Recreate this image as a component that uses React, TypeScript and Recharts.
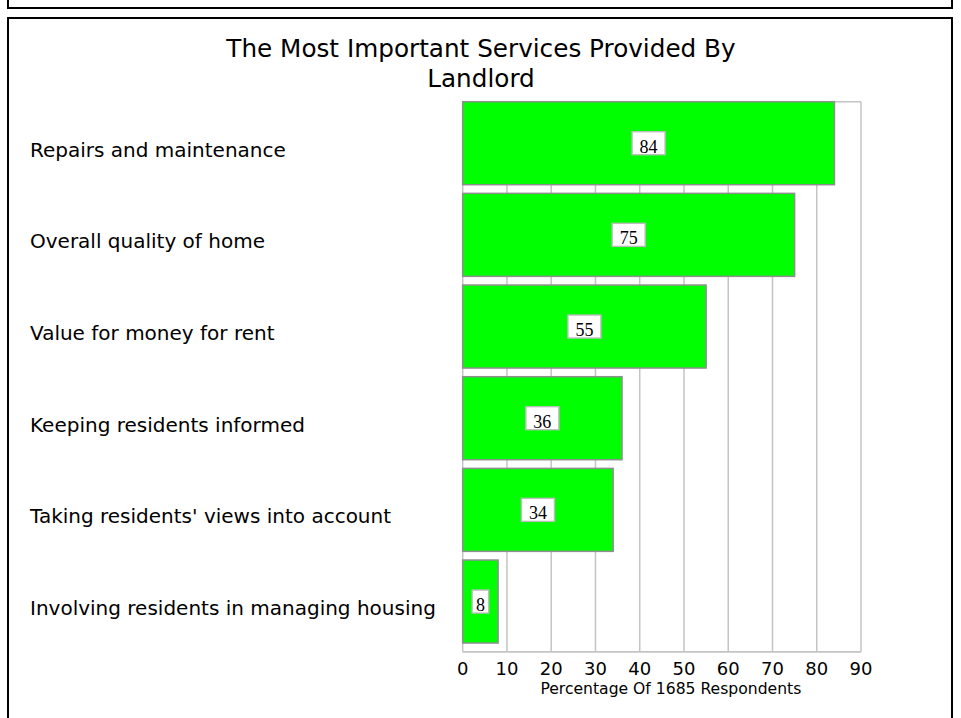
import React from 'react';
import { BarChart, Bar, XAxis, YAxis, CartesianGrid, LabelList, Label } from 'recharts';

const categories = [
  'Repairs and maintenance',
  'Overall quality of home',
  'Value for money for rent',
  'Keeping residents informed',
  "Taking residents' views into account",
  'Involving residents in managing housing',
];
const values = [84, 75, 55, 36, 34, 8];
const xTicks = [0, 10, 20, 30, 40, 50, 60, 70, 80, 90];
const titleLines = ['The Most Important Services Provided By', 'Landlord'];
const axisTitle = 'Percentage Of 1685 Respondents';

const data = categories.map((name, i) => ({ name, value: values[i] }));

const FONT = 'DejaVu Sans, sans-serif';
const GRID = '#c4c4c4';
const SHIFT = 4.5;

const BarShape = (p: any) => (
  <rect
    x={p.x}
    y={p.y - SHIFT}
    width={Math.max(p.width, 0)}
    height={p.height}
    fill="#00ff00"
    stroke="#8f8f8f"
    strokeWidth={1.5}
  />
);

const ValueBox = (p: any) => {
  const { x, y, width, height, value } = p;
  const s = String(value);
  const w = 16.5 * s.length;
  const h = 23;
  const cx = x + width / 2;
  const cy = y + height / 2 - SHIFT;
  return (
    <g>
      <rect x={cx - w / 2} y={cy - h / 2} width={w} height={h} fill="#ffffff" stroke="#bdbdbd" strokeWidth={1.4} />
      <text x={cx} y={cy + h / 2 - 2} textAnchor="middle" fontFamily="Liberation Serif, Times New Roman, serif" fontSize={18} fill="#000">
        {s}
      </text>
    </g>
  );
};

const CatTick = (p: any) => (
  <text x={30} y={p.y} dy={9} textAnchor="start" fontFamily={FONT} fontSize={20} fill="#000">
    {p.payload.value}
  </text>
);

const AxisTitle = (p: any) => {
  const vb = p.viewBox || {};
  return (
    <text x={vb.x + vb.width / 2 + 9} y={vb.y + 42.6} textAnchor="middle" fontFamily={FONT} fontSize={15.6} fill="#000">
      {axisTitle}
    </text>
  );
};

export default function App() {
  return (
    <div style={{ position: 'absolute', left: 0, top: 0, width: 961, height: 718, overflow: 'hidden', background: '#fff' }}>
      <div style={{ position: 'absolute', left: 7, top: -20, width: 946, height: 29, border: '2px solid #000', boxSizing: 'border-box' }} />
      <div style={{ position: 'absolute', left: 7, top: 17, width: 946, height: 800, border: '2px solid #000', boxSizing: 'border-box' }} />
      <div style={{ position: 'absolute', left: 0, top: 0 }}>
        <BarChart
          width={961}
          height={718}
          layout="vertical"
          data={data}
          margin={{ top: 101.7, right: 100, bottom: 0, left: 0 }}
          barCategoryGap={4.5}
        >
          <CartesianGrid
            stroke={GRID}
            strokeWidth={1.5}
            horizontalCoordinatesGenerator={({ offset }: any) => [offset.top, offset.top + offset.height]}
          />
          <XAxis
            type="number"
            domain={[0, 90]}
            ticks={xTicks}
            interval={0}
            height={66.3}
            axisLine={{ stroke: GRID, strokeWidth: 1.5 }}
            tickLine={false}
            tickMargin={5}
            tick={{ fontFamily: FONT, fontSize: 18, fill: '#000' }}
          >
            <Label content={AxisTitle} />
          </XAxis>
          <YAxis type="category" dataKey="name" width={462.7} axisLine={false} tickLine={false} tick={CatTick} interval={0} />
          <Bar dataKey="value" isAnimationActive={false} shape={BarShape}>
            <LabelList dataKey="value" content={ValueBox} />
          </Bar>
        </BarChart>
      </div>
      <svg width={961} height={718} style={{ position: 'absolute', left: 0, top: 0, pointerEvents: 'none' }}>
        {titleLines.map((t, i) => (
          <text key={i} x={481} y={57 + i * 29.5} textAnchor="middle" fontFamily={FONT} fontSize={24.7} fill="#000">
            {t}
          </text>
        ))}
      </svg>
    </div>
  );
}
